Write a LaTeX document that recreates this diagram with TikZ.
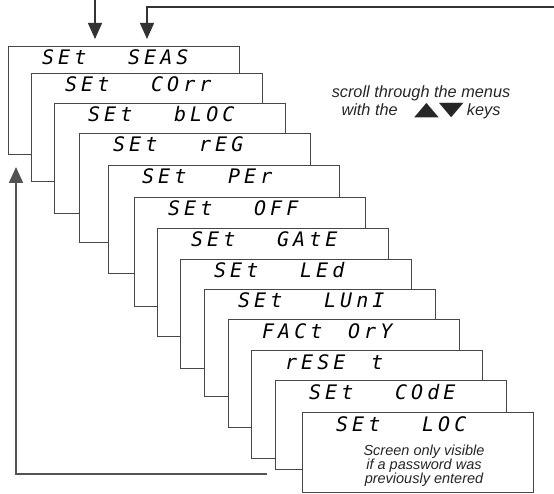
\documentclass[tikz,border=0pt]{standalone}
\usepackage{fontspec}
\setmainfont{Liberation Sans}
\newfontfamily\segfont{DejaVu Sans Mono}[LetterSpace=20]
\newfontfamily\trifont{DejaVu Sans}[FakeStretch=1.7]
\usetikzlibrary{arrows.meta}
\begin{document}
\begin{tikzpicture}[x=1pt,y=-1pt,
  card/.style={draw=black!72, line width=0.9pt, fill=white, inner sep=0pt, anchor=north west, minimum width=231pt},
  seg/.style={font=\segfont\itshape\fontsize{20}{20}\selectfont, inner sep=0pt, anchor=base west, text=black},
  flow/.style={draw=black!80, line width=1.4pt, -{Triangle[width=14pt,length=16pt]}},
  note/.style={font=\itshape\fontsize{14.5}{14}\selectfont, align=center, inner sep=0pt, text=black!85}]
\useasboundingbox (0,0) rectangle (554,494);
\foreach \i/\l/\t/\h/\a/\b in {
  1/8/46/108/SEt/SEAS,
  2/31/73/108/SEt/COrr,
  3/54/103/110/SEt/bLOC,
  4/79/133/109/SEt/rEG,
  5/108/165/108/SEt/PEr,
  6/134/197/109/SEt/OFF,
  7/157/228/108/SEt/GAtE,
  8/180/259/109/SEt/LEd,
  9/204/289/107/SEt/LUnI,
  10/228/319/108/FACt/OrY,
  11/251/350/108/rESE/t,
  12/275/380/89/SEt/COdE,
  13/302/412/80/SEt/LOC}{
  \node[card, minimum height=\h pt] (c\i) at (\l,\t) {};
  \node[seg] (d\i a) at (\l+34,\t+19) {\a};
  \node[seg] (d\i b) at (\l+120,\t+19) {\b};
}
\node[note] (msg) at (424,466) {Screen only visible\\if a password was\\previously entered};
\node[font=\itshape\fontsize{16.3}{18}\selectfont, align=center, inner sep=0pt, text=black!85] (scroll) at (421,102)
  {scroll through the menus\\with the\hspace{1em}{\trifont\upshape\fontsize{19}{18}\selectfont ▲▼}\hspace{0.2em}keys};
\coordinate (in1) at (95,0);
\coordinate (in2) at (554,7);
\coordinate (k2) at (147,0);
\coordinate (r0) at (267,474);
\coordinate (r1) at (16,167);
\draw[flow, shorten >=7pt] (in1) -- (in1 |- c1.north);
\draw[flow, shorten >=7pt] (in2) -| (k2 |- c1.north);
\draw[flow, draw=black!68, line width=1.8pt] (r0) -| (r1);
\end{tikzpicture}
\end{document}
